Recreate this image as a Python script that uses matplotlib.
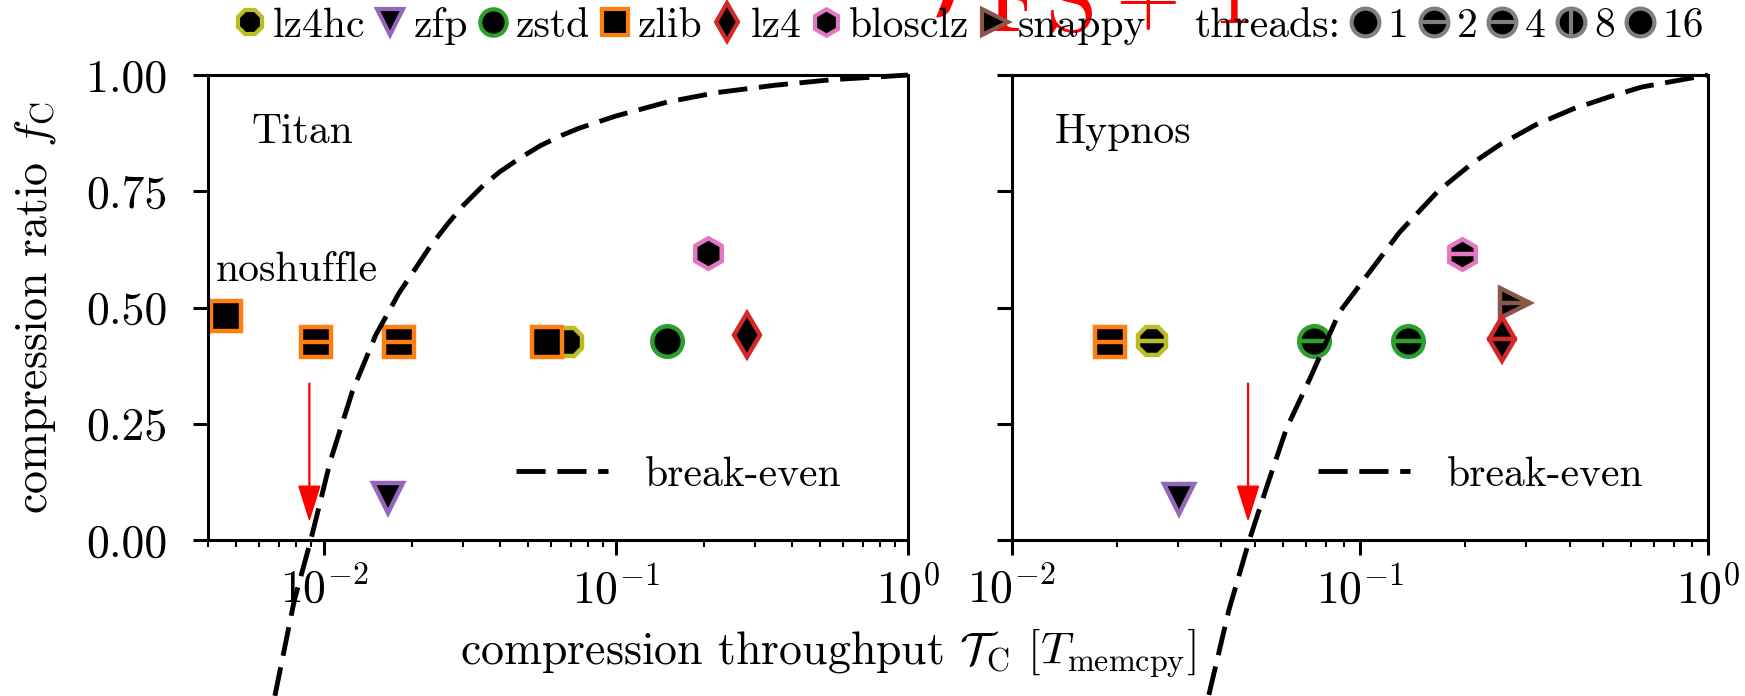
import matplotlib
matplotlib.use('Agg')
import matplotlib.pyplot as plt
from matplotlib.lines import Line2D
from matplotlib.ticker import FormatStrFormatter, NullFormatter

plt.rcParams['font.family'] = 'serif'
plt.rcParams['font.serif'] = ['cmr10']
plt.rcParams['mathtext.fontset'] = 'cm'
plt.rcParams['axes.formatter.use_mathtext'] = True

# codecs, legend order
codecs = ['lz4hc', 'zfp', 'zstd', 'zlib', 'lz4', 'blosclz', 'snappy']
codec_marker = ['8', 'v', 'o', 's', 'd', 'h', '>']
codec_color = ['tab:olive', 'tab:purple', 'tab:green', 'tab:orange',
               'tab:red', 'tab:pink', 'tab:brown']
threads = [1, 2, 4, 8, 16]
thread_bar = {1: None, 2: '_', 4: '_', 8: '|', 16: None}

# Titan measurements
titan_codec = ['zlib', 'zlib', 'zlib', 'lz4hc', 'zlib', 'zstd', 'lz4', 'blosclz', 'zfp']
titan_threads = [1, 2, 4, 1, 16, 1, 1, 1, 1]
titan_tc = [0.0046, 0.0094, 0.0181, 0.0684, 0.0581, 0.1496, 0.2805, 0.206, 0.0165]
titan_fc = [0.482, 0.426, 0.426, 0.426, 0.426, 0.429, 0.440, 0.617, 0.090]

# Hypnos measurements
hypnos_codec = ['zlib', 'lz4hc', 'zfp', 'zstd', 'zstd', 'blosclz', 'snappy', 'lz4']
hypnos_threads = [2, 2, 1, 2, 4, 2, 2, 2]
hypnos_tc = [0.0191, 0.0253, 0.0302, 0.0738, 0.137, 0.196, 0.279, 0.2565]
hypnos_fc = [0.426, 0.429, 0.088, 0.427, 0.427, 0.616, 0.510, 0.433]

# break-even curves
titan_be_tc = [0.00678, 0.0079, 0.0090, 0.0105, 0.0125, 0.0150, 0.0180, 0.0230, 0.0265,
               0.0300, 0.0350, 0.0400, 0.0470, 0.0550, 0.0650, 0.0750, 0.100, 0.150,
               0.220, 0.350, 0.550, 1.0]
titan_be_fc = [-0.335, -0.13, 0.0, 0.17, 0.32, 0.44, 0.53, 0.63, 0.68,
               0.72, 0.762, 0.792, 0.822, 0.848, 0.870, 0.886, 0.912, 0.942,
               0.962, 0.978, 0.990, 1.0]
hypnos_be_tc = [0.0368, 0.0420, 0.0481, 0.0540, 0.0615, 0.0720, 0.0873, 0.105, 0.130,
                0.1675, 0.210, 0.252, 0.320, 0.409, 0.520, 0.644, 0.800, 1.0]
hypnos_be_fc = [-0.333, -0.151, 0.0, 0.115, 0.24, 0.349, 0.49, 0.570, 0.662,
                0.75, 0.81, 0.85, 0.893, 0.927, 0.953, 0.974, 0.987, 1.0]

# red arrows: break-even throughput
arrow_tc = [0.0089, 0.0477]
arrow_fc = [0.337, 0.044]

MS = 22
MEW = 3.2

fig = plt.figure(figsize=(17.45, 6.96), dpi=100)
ax1 = fig.add_axes([0.1192, 0.2241, 0.4011, 0.6681])
ax2 = fig.add_axes([0.5799, 0.2241, 0.3989, 0.6681])

panels = [
    (ax1, 'Titan', titan_codec, titan_threads, titan_tc, titan_fc,
     titan_be_tc, titan_be_fc, arrow_tc[0], (0.004, 1)),
    (ax2, 'Hypnos', hypnos_codec, hypnos_threads, hypnos_tc, hypnos_fc,
     hypnos_be_tc, hypnos_be_fc, arrow_tc[1], (0.01, 1)),
]

for ax, name, cod, thr, tc, fc, be_tc, be_fc, atc, xlim in panels:
    for c, t, x, y in zip(cod, thr, tc, fc):
        i = codecs.index(c)
        ax.plot(x, y, ls='none', marker=codec_marker[i], ms=MS, mfc='k',
                mec=codec_color[i], mew=MEW, clip_on=False)
        if thread_bar[t]:
            ax.plot(x, y, ls='none', marker=thread_bar[t], ms=MS,
                    mec=codec_color[i], mew=MEW, clip_on=False)
    ax.plot(be_tc, be_fc, color='k', lw=3.5, dashes=(6, 2.4), clip_on=False,
            label='break-even')
    ax.annotate('', xy=(atc, arrow_fc[1]), xytext=(atc, arrow_fc[0]),
                arrowprops=dict(facecolor='red', edgecolor='red', width=0.6,
                                headwidth=15, headlength=24))
    ax.set_xscale('log')
    ax.set_xlim(*xlim)
    ax.set_ylim(0, 1)
    ax.set_yticks([0, 0.25, 0.5, 0.75, 1.0])
    ax.yaxis.set_major_formatter(FormatStrFormatter('%.2f'))
    ax.tick_params(which='major', direction='out', length=11, width=2.2, labelsize=33)
    ax.tick_params(axis='x', which='major', pad=8)
    ax.tick_params(axis='y', which='major', pad=18)
    ax.tick_params(which='minor', direction='out', length=5, width=1.5)
    for s in ax.spines.values():
        s.set_linewidth(2.2)
    ax.text(0.062, 0.876, name, transform=ax.transAxes, fontsize=30, va='center')
    ax.legend(loc='center left', bbox_to_anchor=(0.44, 0.14), frameon=False,
              fontsize=30, handlelength=2.2, handletextpad=0.9,
              borderpad=0, borderaxespad=0)

ax2.yaxis.set_major_formatter(NullFormatter())
ax1.text(0.011, 0.58, 'noshuffle', transform=ax1.transAxes, fontsize=30, va='center')
ax1.set_ylabel(r'compression ratio $f_\mathrm{C}$', fontsize=33)
ax1.yaxis.set_label_coords(-0.214, 0.5)

fig.text(0.4745, 0.063, r'compression throughput $\mathcal{T}_\mathrm{C}$ [$T_\mathrm{memcpy}$]',
         ha='center', va='center', fontsize=33)

# top legend: codecs and thread counts
handles = []
labels = []
for c, m, col in zip(codecs, codec_marker, codec_color):
    handles.append(Line2D([], [], ls='none', marker=m, ms=19, mfc='k', mec=col, mew=3))
    labels.append(c)
handles.append(Line2D([], [], ls='none'))
labels.append('threads:')
for t in threads:
    circ = Line2D([], [], ls='none', marker='o', ms=20, mfc='k', mec='gray', mew=3)
    if thread_bar[t]:
        bar = Line2D([], [], ls='none', marker=thread_bar[t], ms=20, mec='gray', mew=3)
        handles.append((circ, bar))
    else:
        handles.append(circ)
    labels.append(str(t))
fig.legend(handles, labels, loc='center', bbox_to_anchor=(0.554, 0.963), ncol=len(labels),
           frameon=False, fontsize=30, handlelength=1.0, handletextpad=0.05,
           columnspacing=0.1, borderpad=0, borderaxespad=0)

# red formula, clipped at the top edge
fig.text(908 / 1745, 1 - 10 / 696, r'$\mathcal{T}_\mathrm{FS}$', color='red', fontsize=95,
         ha='left', va='baseline')
fig.text(1115 / 1745, 1 - 23 / 696, r'$+\;\,1$', color='red', fontsize=60,
         ha='left', va='baseline')

fig.savefig('out.png', dpi=100)
